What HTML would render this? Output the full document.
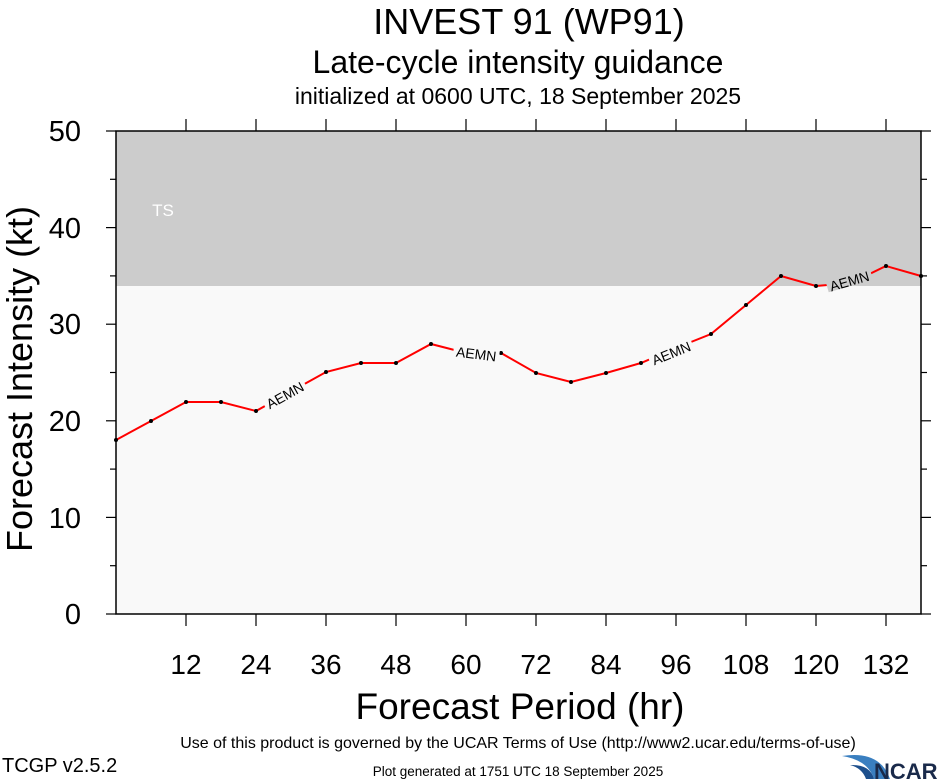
<!DOCTYPE html>
<html><head><meta charset="utf-8"><style>
body{margin:0;background:#fff;}
svg{display:block;font-family:"Liberation Sans",sans-serif;}
</style></head><body>
<svg width="939" height="780" viewBox="0 0 939 780">
<rect x="116" y="131" width="805" height="483" fill="#f9f9f9"/>
<rect x="116" y="131" width="805" height="155" fill="#cccccc"/>
<text x="163" y="216" font-size="17" fill="#fff" text-anchor="middle">TS</text>
<rect x="116" y="131" width="805" height="483" fill="none" stroke="#000" stroke-width="1.5"/>
<g stroke="#000" stroke-width="1.2">
<line x1="106" y1="614" x2="116" y2="614"/><line x1="106" y1="517.4" x2="116" y2="517.4"/><line x1="106" y1="420.8" x2="116" y2="420.8"/><line x1="106" y1="324.2" x2="116" y2="324.2"/><line x1="106" y1="227.6" x2="116" y2="227.6"/><line x1="106" y1="131" x2="116" y2="131"/>
<line x1="110" y1="565.7" x2="116" y2="565.7"/><line x1="110" y1="469.1" x2="116" y2="469.1"/><line x1="110" y1="372.5" x2="116" y2="372.5"/><line x1="110" y1="275.9" x2="116" y2="275.9"/><line x1="110" y1="179.3" x2="116" y2="179.3"/>
<line x1="921" y1="614" x2="931" y2="614"/><line x1="921" y1="517.4" x2="931" y2="517.4"/><line x1="921" y1="420.8" x2="931" y2="420.8"/><line x1="921" y1="324.2" x2="931" y2="324.2"/><line x1="921" y1="227.6" x2="931" y2="227.6"/><line x1="921" y1="131" x2="931" y2="131"/>
<line x1="921" y1="565.7" x2="927" y2="565.7"/><line x1="921" y1="469.1" x2="927" y2="469.1"/><line x1="921" y1="372.5" x2="927" y2="372.5"/><line x1="921" y1="275.9" x2="927" y2="275.9"/><line x1="921" y1="179.3" x2="927" y2="179.3"/>
<line x1="186" y1="614" x2="186" y2="626"/><line x1="256" y1="614" x2="256" y2="626"/><line x1="326" y1="614" x2="326" y2="626"/><line x1="396" y1="614" x2="396" y2="626"/><line x1="466" y1="614" x2="466" y2="626"/><line x1="536" y1="614" x2="536" y2="626"/><line x1="606" y1="614" x2="606" y2="626"/><line x1="676" y1="614" x2="676" y2="626"/><line x1="746" y1="614" x2="746" y2="626"/><line x1="816" y1="614" x2="816" y2="626"/><line x1="886" y1="614" x2="886" y2="626"/>
<line x1="186" y1="119" x2="186" y2="131"/><line x1="256" y1="119" x2="256" y2="131"/><line x1="326" y1="119" x2="326" y2="131"/><line x1="396" y1="119" x2="396" y2="131"/><line x1="466" y1="119" x2="466" y2="131"/><line x1="536" y1="119" x2="536" y2="131"/><line x1="606" y1="119" x2="606" y2="131"/><line x1="676" y1="119" x2="676" y2="131"/><line x1="746" y1="119" x2="746" y2="131"/><line x1="816" y1="119" x2="816" y2="131"/><line x1="886" y1="119" x2="886" y2="131"/>
</g>
<g font-size="29" text-anchor="end">
<text x="81" y="624">0</text><text x="81" y="528">10</text><text x="81" y="431">20</text><text x="81" y="334">30</text><text x="81" y="238">40</text><text x="81" y="141">50</text>
</g>
<g font-size="28" text-anchor="middle">
<text x="186" y="674">12</text><text x="256" y="674">24</text><text x="326" y="674">36</text><text x="396" y="674">48</text><text x="466" y="674">60</text><text x="536" y="674">72</text><text x="606" y="674">84</text><text x="676" y="674">96</text><text x="746" y="674">108</text><text x="816" y="674">120</text><text x="886" y="674">132</text>
</g>
<polyline fill="none" stroke="#f00" stroke-width="2" points="116,440 151,421 186,402 221,402 256,411 291,391.5 326,372 361,363 396,363 431,344 466,353 501,353 536,373 571,382 606,373 641,363 676,348 711,334 746,305 781,276 816,286 851,283 886,266 921,276"/>
<g fill="#000">
<circle cx="116" cy="440" r="2"/><circle cx="151" cy="421" r="2"/><circle cx="186" cy="402" r="2"/><circle cx="221" cy="402" r="2"/><circle cx="256" cy="411" r="2"/><circle cx="326" cy="372" r="2"/><circle cx="361" cy="363" r="2"/><circle cx="396" cy="363" r="2"/><circle cx="431" cy="344" r="2"/><circle cx="501" cy="353" r="2"/><circle cx="536" cy="373" r="2"/><circle cx="571" cy="382" r="2"/><circle cx="606" cy="373" r="2"/><circle cx="641" cy="363" r="2"/><circle cx="711" cy="334" r="2"/><circle cx="746" cy="305" r="2"/><circle cx="781" cy="276" r="2"/><circle cx="816" cy="286" r="2"/><circle cx="886" cy="266" r="2"/><circle cx="921" cy="276" r="2"/>
</g>
<g font-size="14" text-anchor="middle">
<g transform="translate(286,397) rotate(-29)"><rect x="-23" y="-11" width="46" height="15" fill="#f9f9f9"/><text x="0" y="3">AEMN</text></g>
<g transform="translate(476,356) rotate(7)"><rect x="-23" y="-10" width="46" height="14" fill="#f9f9f9"/><text x="0" y="3">AEMN</text></g>
<g transform="translate(672,355) rotate(-22)"><rect x="-23" y="-10" width="46" height="14" fill="#f9f9f9"/><text x="0" y="3">AEMN</text></g>
<g transform="translate(850,283) rotate(-16)"><rect x="-23" y="-10" width="46" height="13" fill="#cccccc"/><text x="0" y="3">AEMN</text></g>
</g>
<g text-anchor="middle">
<text x="529" y="34" font-size="36">INVEST 91 (WP91)</text>
<text x="518" y="73" font-size="32">Late-cycle intensity guidance</text>
<text x="518" y="104" font-size="23">initialized at 0600 UTC, 18 September 2025</text>
<text x="520" y="719" font-size="37">Forecast Period (hr)</text>
<text x="518" y="748" font-size="16">Use of this product is governed by the UCAR Terms of Use (http://www2.ucar.edu/terms-of-use)</text>
<text x="518" y="776" font-size="13.5">Plot generated at 1751 UTC   18 September 2025</text>
</g>
<text transform="translate(32,379) rotate(-90)" text-anchor="middle" font-size="36">Forecast Intensity (kt)</text>
<text x="2" y="772" font-size="20">TCGP v2.5.2</text>
<path d="M842,756 Q880,750 890,779 L874,779 Q868,760 842,756Z" fill="#3a7fc0"/>
<path d="M850,765 Q870,764 874,779 L866,779 Q862,768 850,765Z" fill="#1d4f8c"/>
<text x="874" y="779" font-size="22" font-weight="bold" fill="#1a2a4a">NCAR</text>
</svg>
</body></html>
